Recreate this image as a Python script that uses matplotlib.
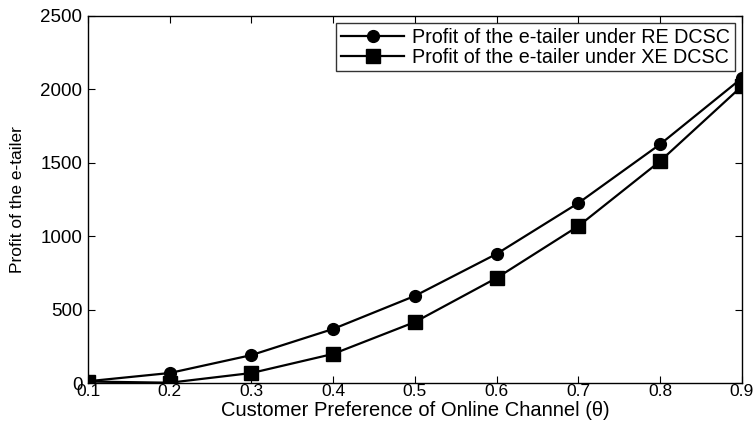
import matplotlib
matplotlib.use("Agg")
import matplotlib.pyplot as plt

theta = [0.1, 0.2, 0.3, 0.4, 0.5, 0.6, 0.7, 0.8, 0.9]
profit_re = [12, 68, 190, 368, 593, 879, 1225, 1625, 2075]
profit_xe = [10, 2, 68, 198, 415, 715, 1068, 1510, 2020]
xticks = [0.1, 0.2, 0.3, 0.4, 0.5, 0.6, 0.7, 0.8, 0.9]
yticks = [0, 500, 1000, 1500, 2000, 2500]

plt.rcParams['font.family'] = ['Liberation Sans', 'DejaVu Sans']

fig = plt.figure(figsize=(7.55, 4.30), dpi=100)
ax = fig.add_axes([0.1166, 0.1093, 0.866, 0.8542])

ax.plot(theta, profit_re, color='black', lw=1.6, marker='o', ms=8.5,
        label='Profit of the e-tailer under RE DCSC')
ax.plot(theta, profit_xe, color='black', lw=1.6, marker='s', ms=9.5,
        label='Profit of the e-tailer under XE DCSC')

ax.set_xlim(0.1, 0.9)
ax.set_ylim(0, 2500)
ax.set_xticks(xticks)
ax.set_xticklabels([f"{t:.1f}" for t in xticks], fontsize=12.5)
ax.set_yticks(yticks)
ax.set_yticklabels([str(v) for v in yticks], fontsize=13.5)
ax.tick_params(direction='in', top=True, right=True, length=5)
ax.tick_params(axis='x', pad=1)
ax.tick_params(axis='y', pad=4)
for s in ax.spines.values():
    s.set_linewidth(1.0)
ax.set_xlabel('Customer Preference of Online Channel (θ)', fontsize=14.5, labelpad=1)
ax.set_ylabel('Profit of the e-tailer', fontsize=12.5, labelpad=11)

leg = ax.legend(loc='upper right', fontsize=14.2, frameon=True, fancybox=False,
                edgecolor='black', borderpad=0.25, labelspacing=0.05,
                handlelength=3.2, handletextpad=0.4, borderaxespad=0.35)
leg.get_frame().set_linewidth(1.0)

fig.savefig('out.png', dpi=100)
